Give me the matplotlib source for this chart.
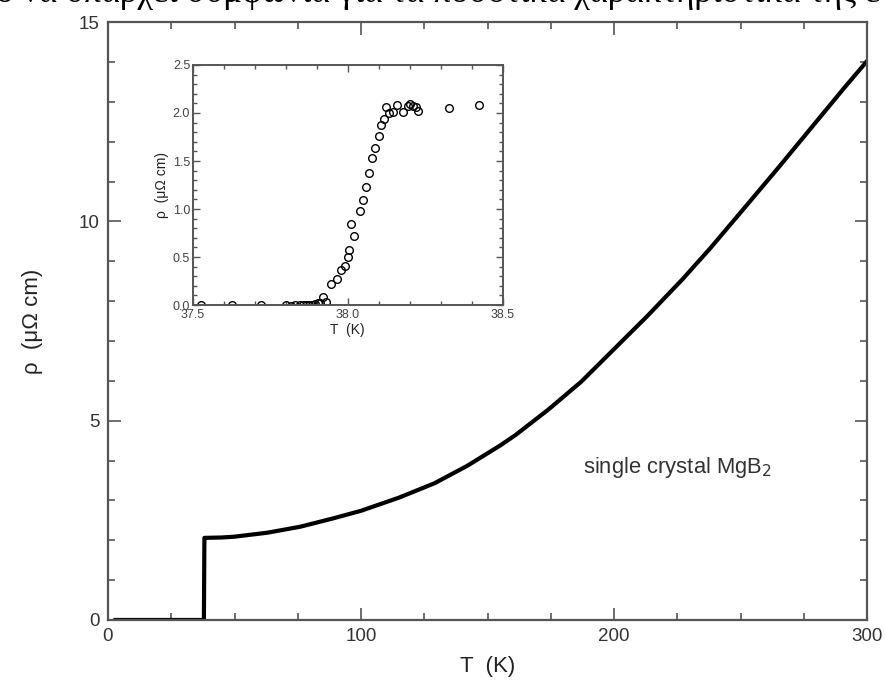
import matplotlib
matplotlib.use('Agg')
import matplotlib.pyplot as plt
from matplotlib.ticker import MultipleLocator, FormatStrFormatter

plt.rcParams['font.family'] = ['Liberation Sans', 'DejaVu Sans']
plt.rcParams['font.serif'] = ['Liberation Serif', 'DejaVu Serif']

# main curve
T_main = [3, 10, 20, 30, 37.9, 38.1, 45, 50, 63, 76, 89, 100, 115, 129, 142, 155,
          161, 174, 187, 200, 213, 227, 238, 252, 265, 278, 291, 300]
rho_main = [0, 0, 0, 0, 0, 2.06, 2.07, 2.09, 2.19, 2.34, 2.55, 2.74, 3.07, 3.43, 3.87, 4.38,
            4.64, 5.28, 5.98, 6.80, 7.62, 8.55, 9.33, 10.38, 11.36, 12.36, 13.36, 14.03]

# inset points near Tc
T_in = [37.527, 37.627, 37.72, 37.80, 37.815, 37.83, 37.845, 37.855, 37.865, 37.875,
        37.885, 37.895, 37.905, 37.91, 37.92, 37.93, 37.946, 37.965, 37.978, 37.992,
        38.0, 38.005, 38.011, 38.019, 38.04, 38.048, 38.059, 38.07, 38.078, 38.088,
        38.1, 38.108, 38.118, 38.124, 38.134, 38.145, 38.158, 38.177, 38.194, 38.2,
        38.212, 38.22, 38.226, 38.328, 38.425]
rho_in = [0.0, 0.0, 0.0, 0.0, -0.01, 0.0, 0.0, 0.005, 0.005, 0.005,
          0.005, 0.01, 0.02, 0.02, 0.08, 0.03, 0.215, 0.27, 0.365, 0.41,
          0.50, 0.57, 0.84, 0.72, 0.98, 1.09, 1.23, 1.37, 1.53, 1.64,
          1.76, 1.875, 1.94, 2.06, 2.0, 2.01, 2.08, 2.01, 2.07, 2.09,
          2.07, 2.06, 2.02, 2.05, 2.08]

gray = '#555555'
txt = '#333333'

fig = plt.figure(figsize=(8.85, 6.84), dpi=100)

# cut-off line of text from the page above the figure
fig.text(-0.004, 0.9975, 'ο να υπάρχει συμφωνία για τα ποσοτικά χαρακτηριστικά της ε',
         fontfamily='serif', fontsize=25.5, va='baseline', ha='left')

ax = fig.add_axes([0.122, 0.0936, 0.858, 0.874])
ax.plot(T_main, rho_main, color='black', lw=3.0, solid_joinstyle='round')
ax.set_xlim(0, 300)
ax.set_ylim(0, 15)
ax.xaxis.set_major_locator(MultipleLocator(100))
ax.xaxis.set_minor_locator(MultipleLocator(25))
ax.yaxis.set_major_locator(MultipleLocator(5))
ax.yaxis.set_minor_locator(MultipleLocator(1))
ax.tick_params(which='both', direction='in', top=True, right=True, color=gray,
               labelcolor=txt, labelsize=13.5, width=1.2)
ax.tick_params(which='major', length=9, pad=6)
ax.tick_params(which='minor', length=5)
for s in ax.spines.values():
    s.set_color(gray)
    s.set_linewidth(1.6)
ax.set_xlabel('T  (K)', fontsize=16, color='#222222', labelpad=8)
ax.set_ylabel('ρ  (μΩ cm)', fontsize=16, color='#222222', labelpad=26)
ax.text(0.626, 0.255, 'single crystal MgB$_2$', transform=ax.transAxes,
        fontsize=15.8, color='#333333', va='center')

ins = fig.add_axes([0.218, 0.554, 0.350, 0.351])
ins.plot(T_in, rho_in, 'o', mfc='none', mec='black', ms=5.5, mew=1.0)
ins.set_xlim(37.5, 38.5)
ins.set_ylim(0, 2.5)
ins.xaxis.set_major_locator(MultipleLocator(0.5))
ins.xaxis.set_minor_locator(MultipleLocator(0.1))
ins.yaxis.set_major_locator(MultipleLocator(0.5))
ins.yaxis.set_minor_locator(MultipleLocator(0.1))
ins.xaxis.set_major_formatter(FormatStrFormatter('%.1f'))
ins.yaxis.set_major_formatter(FormatStrFormatter('%.1f'))
ins.tick_params(which='both', direction='in', top=True, right=True, color=gray,
                labelcolor='#444444', labelsize=9, width=1.0)
ins.tick_params(axis='x', pad=3)
ins.tick_params(axis='y', pad=2)
ins.tick_params(which='major', length=5)
ins.tick_params(which='minor', length=3)
for s in ins.spines.values():
    s.set_color(gray)
    s.set_linewidth(1.4)
ins.set_xlabel('T  (K)', fontsize=10, color='#222222', labelpad=1)
ins.set_ylabel('ρ  (μΩ cm)', fontsize=10, color='#222222', labelpad=3)

fig.savefig('out.png', dpi=100)
